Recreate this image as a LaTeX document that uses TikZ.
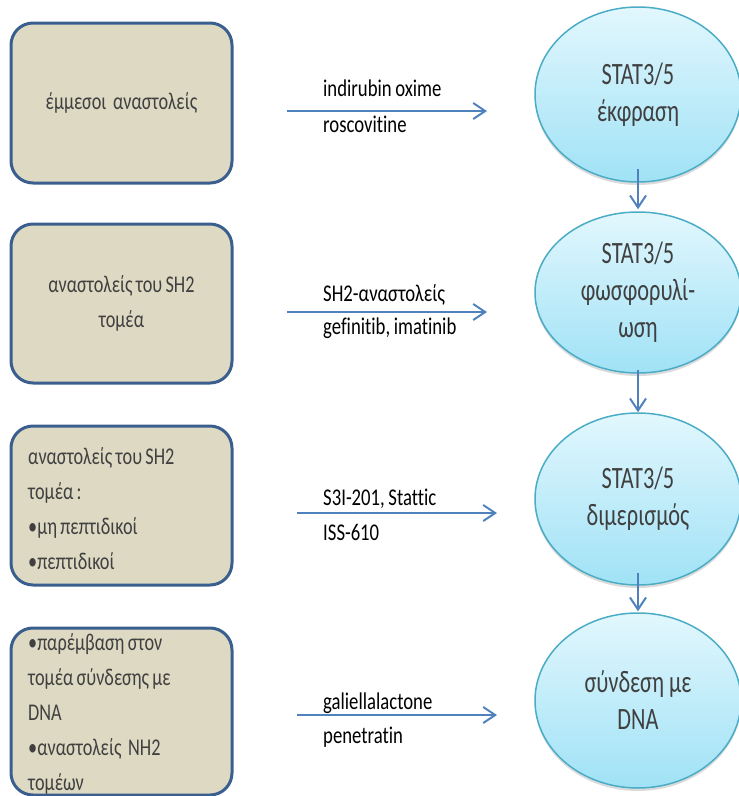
\documentclass[tikz,border=0pt]{standalone}
\usepackage{fontspec}
\setmainfont{Carlito}[Ligatures=NoCommon]
\newfontfamily\boxfont{Carlito}[FakeStretch=0.76,WordSpace=0.8,Ligatures=NoCommon]
\newfontfamily\ellfont{Carlito}[FakeStretch=0.72,Ligatures=NoCommon]
\newfontfamily\lblfont{Carlito}[FakeStretch=0.78,WordSpace=0.85,Ligatures=NoCommon]
\usepackage{tikz}
\usetikzlibrary{arrows.meta,positioning,calc,shapes.geometric,shadows}
\definecolor{boxfill}{RGB}{221,217,195}
\definecolor{boxline}{RGB}{58,95,143}
\definecolor{ellline}{RGB}{75,172,198}
\definecolor{elltop}{RGB}{226,247,253}
\definecolor{ellbot}{RGB}{160,226,246}
\definecolor{flowblue}{RGB}{79,129,189}
\definecolor{greytext}{RGB}{64,64,64}

\begin{document}
\begin{tikzpicture}[x=1pt,y=-1pt]
\tikzset{inhibitor box/.style={
    draw=boxline, fill=boxfill,
    line width=3pt,
    rounded corners=22pt,
    minimum width=221pt,
    minimum height=#1,
    inner sep=0pt,
    text=greytext,
    font=\boxfont\fontsize{24}{35}\selectfont,
    align=center
  },
  inhibitor box/.default=160pt,
  box list/.style={anchor=north west, inner sep=0pt, align=left, text=greytext,
    font=\boxfont\fontsize{24}{35}\selectfont},
  stat ellipse/.style={
    ellipse,
    draw=ellline, line width=1.5pt,
    top color=elltop, bottom color=ellbot,
    minimum width=206pt,
    minimum height=#1,
    inner sep=0pt,
    text=greytext,
    font=\ellfont\fontsize{31}{37}\selectfont,
    align=center,
    drop shadow={shadow xshift=0pt, shadow yshift=-3pt, opacity=.2, fill=black!70}
  },
  stat ellipse/.default=175pt,
  drug/.style={anchor=base west, inner sep=0pt, font=\lblfont\fontsize{24}{28}\selectfont},
  flow/.style={draw=flowblue, line width=2pt, -{Straight Barb[length=12pt,width=16pt]}}
}

\useasboundingbox (0,0) rectangle (739,796);

\node[inhibitor box] (indirect) at (121.5,103) {έμμεσοι\ \ αναστολείς};
\node[inhibitor box=159pt] (sh2) at (121.5,303.5) {αναστολείς του SH2\\τομέα};
\node[inhibitor box=159pt] (peptide) at (121.5,505.5) {};
\node[inhibitor box=167pt] (dnadomain) at (121.5,711.5) {};
\node[box list] (peptidetext) at (28,447)
  {αναστολείς του SH2\\τομέα :\\•μη πεπτιδικοί\\•πεπτιδικοί};
\node[box list] (dnadomaintext) at (28,633)
  {•παρέμβαση στον\\τομέα σύνδεσης με\\DNA\\•αναστολείς\ \ NH2\\τομέων};

\node[stat ellipse] (expr) at (638,94.5) {STAT3/5\\έκφραση};
\node[stat ellipse=161pt] (phos) at (638,292.5) {STAT3/5\\φωσφορυλί-\\ωση};
\node[stat ellipse=172pt] (dimer) at (638,499) {STAT3/5\\διμερισμός};
\node[stat ellipse] (dnabind) at (638,700.5) {σύνδεση με\\DNA};

\coordinate (f1a) at (287,111); \coordinate (f1b) at (487,111);
\coordinate (f2a) at (287,312); \coordinate (f2b) at (487,312);
\coordinate (f3a) at (297,513); \coordinate (f3b) at (497,513);
\coordinate (f4a) at (297,715); \coordinate (f4b) at (497,715);

\draw[flow] (f1a) -- (f1b);
\draw[flow] (f2a) -- (f2b);
\draw[flow] (f3a) -- (f3b);
\draw[flow] (f4a) -- (f4b);

\node[drug] (d1a) at (323,96) {indirubin oxime};
\node[drug] (d1b) at (323,132) {roscovitine};
\node[drug] (d2a) at (323,301) {SH2-αναστολείς};
\node[drug] (d2b) at (323,334) {gefinitib, imatinib};
\node[drug] (d3a) at (323,505) {S3I-201, Stattic};
\node[drug] (d3b) at (323,540) {ISS-610};
\node[drug] (d4a) at (323,709) {galiellalactone};
\node[drug] (d4b) at (323,743) {penetratin};

\draw[flow] ([yshift=14pt]expr.south) -- ([yshift=2pt]phos.north);
\draw[flow] ([yshift=4pt]phos.south) -- (dimer.north);
\draw[flow] ([yshift=13pt]dimer.south) -- ([yshift=1pt]dnabind.north);

\end{tikzpicture}
\end{document}
